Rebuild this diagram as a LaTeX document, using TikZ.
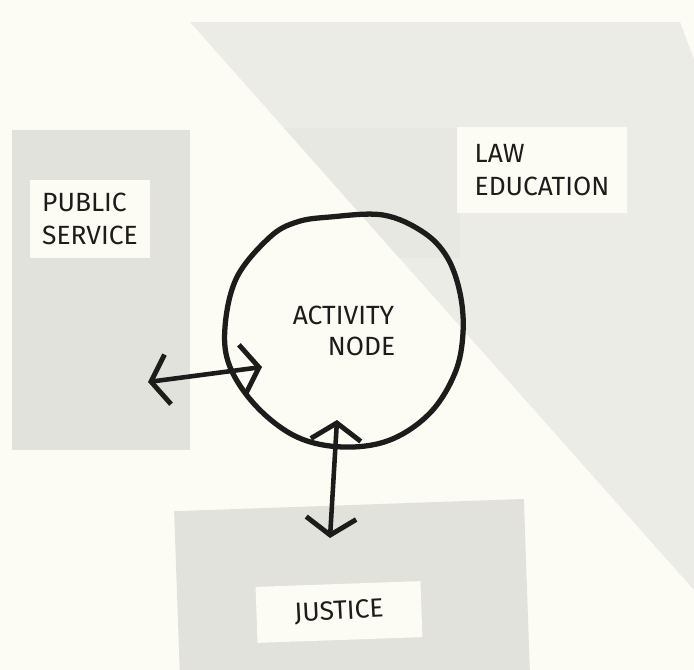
\documentclass[tikz,border=0pt]{standalone}
\usepackage{fontspec}
\setmainfont{Fira Sans}
\usetikzlibrary{arrows.meta,positioning}

\definecolor{paper}{HTML}{FCFBF4}
\definecolor{screen}{HTML}{E2E2DD}
\definecolor{screenlight}{HTML}{ECECE6}
\definecolor{screenband}{HTML}{E8E8E3}
\definecolor{ink}{HTML}{1C1C1A}

\begin{document}
\begin{tikzpicture}[x=0.02cm,y=-0.02cm,
		every node/.style={font=\fontsize{15}{19}\selectfont, text=ink},
		labelbox/.style={fill=paper, inner sep=0pt, align=left},
		area/.style={fill=screen, inner sep=0pt},
		twoway/.style={ink, line width=2.6pt, line cap=round, line join=round,
			{Straight Barb[length=0.34cm,width=1cm,line width=2.8pt]}-{Straight Barb[length=0.34cm,width=1cm,line width=2.8pt]}}]
		\useasboundingbox[fill=paper] (0,0) rectangle (694,670);

		% the big diagonal field behind everything
		\fill[screenlight] (190,22) -- (680,22) -- (694,60) -- (694,590) -- cycle;
		\begin{scope}
			\clip (190,22) -- (680,22) -- (694,60) -- (694,590) -- cycle;
			\fill[screenband] (150,128) rectangle (460,258);
		\end{scope}

		% grey fields
		\node[area, minimum width=3.56cm, minimum height=6.4cm] (public) at (101,290) {};
		\node[area, rotate=2, minimum width=7cm, minimum height=4.6cm] (justice) at (353,620) {};

		% labels on white slips
		\node[labelbox, minimum width=2.4cm, minimum height=1.56cm] (public label) at (90,219) {PUBLIC\\SERVICE};
		\node[labelbox, minimum width=3.4cm, minimum height=1.72cm] (law label) at (542,170) {LAW\\EDUCATION};
		\node[labelbox, rotate=2, minimum width=3.3cm, minimum height=1.12cm] (justice label) at (339,612) {\rotatebox{1}{JUSTICE}};

		% the activity node, drawn by hand
		\node[align=left, inner sep=0pt] (activity) at (344,331) {ACTIVITY\\[-1pt]\hspace*{0.7cm}NODE};
		\draw[ink, line width=3pt] plot[smooth cycle, tension=0.6] coordinates {
			(330,217) (383,215) (423,232) (447,257) (460,293) (463,333) (455,373)
			(430,413) (390,440) (343,447) (297,437) (257,407) (230,367) (225,327)
			(237,277) (270,237) (297,222)};

		% links
		\coordinate (public end) at (148,382);
		\coordinate (activity west) at (262,367);
		\coordinate (activity south) at (337,420);
		\coordinate (justice end) at (330,538);
		\draw[twoway] (public end) -- (activity west);
		\draw[twoway] (activity south) -- (justice end);
	\end{tikzpicture}
\end{document}
